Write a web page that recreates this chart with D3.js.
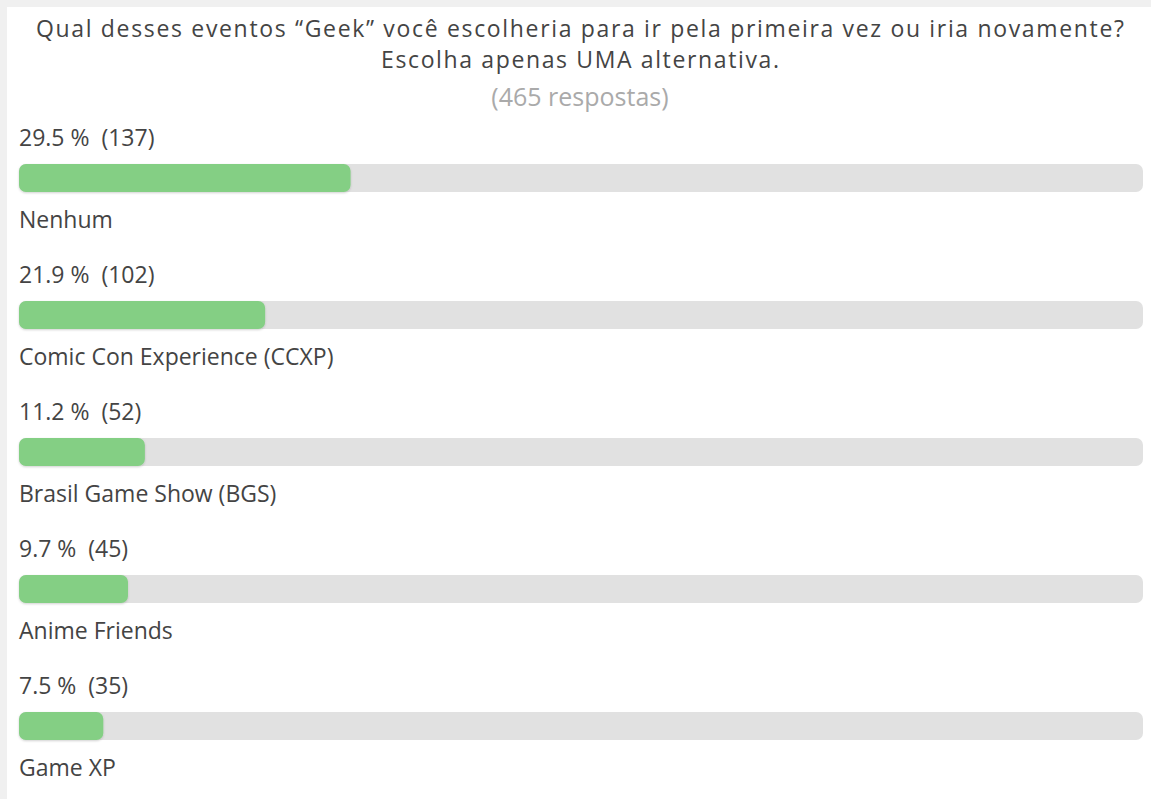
<!DOCTYPE html>
<html>
<head>
<meta charset="utf-8">
<script src="https://cdn.jsdelivr.net/npm/d3@7"></script>
<style>
  body { margin: 0; background: #f0f0f0; }
  svg { display: block; }
</style>
</head>
<body>
<svg id="chart"></svg>
<script>
var svg_width = 1151
var svg_height = 799

var categories = ["Nenhum", "Comic Con Experience (CCXP)", "Brasil Game Show (BGS)", "Anime Friends", "Game XP"];
var percents = [29.5, 21.9, 11.2, 9.7, 7.5];
var counts = [137, 102, 52, 45, 35];
var titleLines = ["Qual desses eventos \u201cGeek\u201d você escolheria para ir pela primeira vez ou iria novamente?", "Escolha apenas UMA alternativa."];
var subtitle = "(465 respostas)";

var rows = categories.map(function(c, i) {
  return { name: c, pct: percents[i], n: counts[i] };
});

var chart = d3.select("#chart")
.attr("width", svg_width)
.attr("height", svg_height)
.style("font-family", "'Open Sans', 'Noto Sans', sans-serif");

var defs = chart.append("defs");
var f = defs.append("filter").attr("id", "shadow").attr("x", "-5%").attr("y", "-30%").attr("width", "110%").attr("height", "160%");
f.append("feDropShadow").attr("dx", 0).attr("dy", 1).attr("stdDeviation", 1).attr("flood-color", "#000").attr("flood-opacity", 0.18);

// white panel
chart.append("rect")
.attr("x", 7).attr("y", 7)
.attr("width", svg_width - 7).attr("height", svg_height - 7)
.attr("fill", "#ffffff");

// title lines
chart.selectAll("text.title")
.data(titleLines)
.enter()
.append("text")
.attr("class", "title")
.attr("x", 580)
.attr("y", function(d, i) { return 37 + i * 31; })
.attr("text-anchor", "middle")
.attr("font-size", "23px")
.attr("textLength", function(d, i) { return i == 0 ? 1088 : 398; })
.attr("fill", "#444")
.text(function(d) { return d; });

chart.append("text")
.attr("x", 580)
.attr("y", 106)
.attr("text-anchor", "middle")
.attr("font-size", "25px")
.attr("fill", "#aaaaaa")
.text(subtitle);

var x = d3.scaleLinear().domain([0, 100]).range([19, 1143]);
var y = d3.scaleBand().domain(categories).range([127, 127 + 137 * categories.length]).padding(0);

var g = chart.selectAll("g.row")
.data(rows)
.enter()
.append("g")
.attr("class", "row")
.attr("transform", function(d) { return "translate(0," + y(d.name) + ")"; });

g.append("text")
.attr("x", 19)
.attr("y", 19)
.attr("font-size", "23px")
.attr("fill", "#444")
.attr("xml:space", "preserve")
.text(function(d) { return d.pct + " %  (" + d.n + ")"; });

g.append("rect")
.attr("x", x(0))
.attr("y", 37)
.attr("width", x(100) - x(0))
.attr("height", 28)
.attr("rx", 7)
.attr("fill", "#e1e1e1");

g.append("rect")
.attr("x", x(0))
.attr("y", 37)
.attr("width", function(d) { return x(d.pct) - x(0); })
.attr("height", 28)
.attr("rx", 7)
.attr("fill", "#84cf84")
.attr("filter", "url(#shadow)");

g.append("text")
.attr("x", 19)
.attr("y", 101)
.attr("font-size", "23px")
.attr("fill", "#444")
.text(function(d) { return d.name; });
</script>
</body>
</html>
